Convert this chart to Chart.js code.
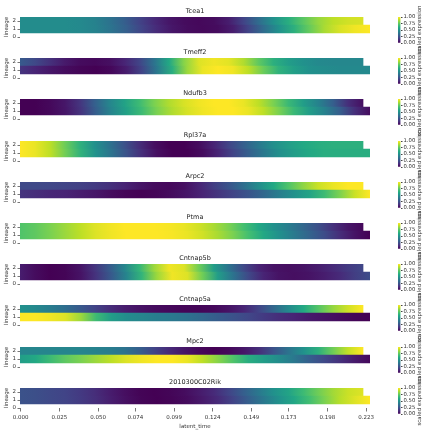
<!DOCTYPE html>
<html><head><meta charset="utf-8">
<script src="https://cdn.jsdelivr.net/npm/chart.js@4"></script>
<style>
html,body{margin:0;padding:0;background:#fff;width:425px;height:434px;overflow:hidden;}
body{position:relative;}
canvas{position:absolute;}
</style></head><body>
<script>
// ---- data ----
const genes = ['Tcea1','Tmeff2','Ndufb3','Rpl37a','Arpc2','Ptma','Cntnap5b','Cntnap5a','Mpc2','2010300C02Rik'];
const lineages = [2, 1];

const Tcea1_L2 = [0.48,0.48,0.48,0.48,0.47,0.44,0.38,0.30,0.20,0.12,0.06,0.03,0.02,0.03,0.08,0.20,0.35,0.50,0.62,0.74,0.84,0.90,0.93,0.94];
const Tcea1_L1 = [0.48,0.48,0.48,0.48,0.47,0.44,0.38,0.30,0.20,0.12,0.06,0.03,0.02,0.03,0.08,0.20,0.35,0.50,0.63,0.76,0.87,0.94,0.98,1.00];
const Tmeff2_L2 = [0.28,0.22,0.14,0.07,0.03,0.02,0.04,0.10,0.20,0.38,0.60,0.82,0.95,0.98,0.96,0.88,0.75,0.63,0.55,0.50,0.47,0.46,0.46,0.46];
const Tmeff2_L1 = [0.15,0.10,0.06,0.03,0.01,0.00,0.02,0.08,0.20,0.40,0.62,0.85,0.97,1.00,0.98,0.90,0.77,0.64,0.56,0.50,0.48,0.47,0.47,0.47];
const Ndufb3_L2 = [0.00,0.00,0.02,0.06,0.15,0.30,0.45,0.57,0.68,0.80,0.88,0.94,0.98,1.00,1.00,0.97,0.90,0.80,0.67,0.55,0.44,0.30,0.13,0.04];
const Ndufb3_L1 = [0.00,0.00,0.02,0.06,0.15,0.30,0.45,0.57,0.68,0.80,0.88,0.94,0.98,1.00,1.00,0.97,0.90,0.80,0.67,0.55,0.44,0.30,0.13,0.03];
const Rpl37a_L2 = [1.00,0.97,0.90,0.78,0.64,0.50,0.38,0.25,0.13,0.04,0.00,0.00,0.03,0.10,0.20,0.30,0.40,0.49,0.55,0.60,0.62,0.63,0.63,0.63];
const Rpl37a_L1 = [1.00,0.97,0.90,0.78,0.64,0.50,0.38,0.25,0.13,0.04,0.00,0.00,0.03,0.10,0.20,0.30,0.40,0.49,0.55,0.60,0.62,0.62,0.62,0.62];
const Arpc2_L2 = [0.22,0.22,0.21,0.20,0.19,0.17,0.14,0.10,0.06,0.03,0.02,0.04,0.10,0.18,0.26,0.36,0.48,0.60,0.72,0.83,0.92,0.97,1.00,1.00];
const Arpc2_L1 = [0.15,0.13,0.11,0.10,0.08,0.06,0.03,0.01,0.00,0.01,0.03,0.06,0.10,0.15,0.20,0.26,0.33,0.42,0.50,0.58,0.68,0.80,0.92,1.00];
const Ptma_L2 = [0.72,0.75,0.80,0.85,0.90,0.95,0.98,1.00,1.00,1.00,0.99,0.97,0.93,0.87,0.80,0.70,0.60,0.50,0.42,0.33,0.24,0.14,0.06,0.02];
const Ptma_L1 = [0.72,0.75,0.80,0.85,0.90,0.95,0.98,1.00,1.00,1.00,0.99,0.97,0.93,0.87,0.80,0.70,0.60,0.50,0.41,0.32,0.23,0.13,0.05,0.00];
const Cntnap5b_L2 = [0.08,0.03,0.00,0.01,0.05,0.15,0.28,0.45,0.65,0.85,0.98,0.95,0.78,0.55,0.38,0.22,0.10,0.05,0.04,0.05,0.08,0.12,0.17,0.21];
const Cntnap5b_L1 = [0.08,0.03,0.00,0.01,0.05,0.15,0.28,0.45,0.65,0.85,0.98,0.95,0.78,0.55,0.38,0.22,0.10,0.05,0.04,0.05,0.08,0.12,0.18,0.23];
const Cntnap5a_L2 = [0.50,0.47,0.42,0.36,0.28,0.20,0.13,0.08,0.05,0.03,0.02,0.01,0.01,0.02,0.05,0.10,0.20,0.33,0.47,0.60,0.73,0.84,0.93,1.00];
const Cntnap5a_L1 = [1.00,1.00,0.98,0.95,0.85,0.68,0.55,0.48,0.45,0.42,0.40,0.37,0.33,0.29,0.25,0.21,0.17,0.13,0.10,0.07,0.05,0.03,0.01,0.00];
const Mpc2_L2 = [0.45,0.45,0.45,0.45,0.45,0.44,0.42,0.38,0.30,0.20,0.12,0.06,0.02,0.00,0.02,0.06,0.13,0.25,0.38,0.50,0.63,0.78,0.91,1.00];
const Mpc2_L1 = [0.55,0.60,0.68,0.75,0.80,0.85,0.90,0.95,0.98,1.00,1.00,0.97,0.90,0.82,0.72,0.62,0.55,0.48,0.40,0.30,0.22,0.14,0.07,0.02];
const Rik_L2 = [0.25,0.24,0.22,0.20,0.17,0.13,0.08,0.04,0.01,0.00,0.01,0.03,0.07,0.12,0.20,0.30,0.40,0.50,0.58,0.68,0.78,0.86,0.92,0.95];
const Rik_L1 = [0.25,0.24,0.22,0.20,0.17,0.13,0.08,0.04,0.01,0.00,0.01,0.03,0.07,0.12,0.20,0.30,0.40,0.50,0.59,0.69,0.80,0.89,0.95,1.00];

const rowStart = -0.0004;
const rowEnd = [0.2210, 0.2255];      // lineage 2, lineage 1
const xMin = -0.0004, xMax = 0.2255;
const xTickLabels = ['0.000','0.025','0.050','0.074','0.099','0.124','0.149','0.173','0.198','0.223'];
const yTickValues = [0, 1, 2];
const cbTickValues = [0, 0.25, 0.5, 0.75, 1];
const cbTickLabels = ['0.00','0.25','0.50','0.75','1.00'];

const series = [
  [Tcea1_L2, Tcea1_L1], [Tmeff2_L2, Tmeff2_L1], [Ndufb3_L2, Ndufb3_L1], [Rpl37a_L2, Rpl37a_L1],
  [Arpc2_L2, Arpc2_L1], [Ptma_L2, Ptma_L1], [Cntnap5b_L2, Cntnap5b_L1], [Cntnap5a_L2, Cntnap5a_L1],
  [Mpc2_L2, Mpc2_L1], [Rik_L2, Rik_L1]
];

// ---- colormap ----
const VIRIDIS = ['#440154','#482475','#414487','#355f8d','#2a788e','#21918c','#22a884','#44bf70','#7ad151','#bddf26','#fde725'];
function hexRgb(h){return [parseInt(h.slice(1,3),16),parseInt(h.slice(3,5),16),parseInt(h.slice(5,7),16)];}
const VRGB = VIRIDIS.map(hexRgb);
function viridis(v){
  v = Math.max(0, Math.min(1, v));
  const p = v * (VRGB.length - 1);
  const i = Math.min(Math.floor(p), VRGB.length - 2);
  const t = p - i;
  const a = VRGB[i], b = VRGB[i+1];
  return 'rgb(' + [0,1,2].map(c => Math.round(a[c] + (b[c]-a[c])*t)).join(',') + ')';
}

Chart.defaults.font.family = '"DejaVu Sans", sans-serif';
const TXT = '#333';

function rowGradient(ctx, rows){
  const chart = ctx.chart;
  if (!chart.chartArea || ctx.dataIndex === undefined) return 'rgba(0,0,0,0)';
  const k = ctx.dataIndex;
  const vals = rows[k];
  const xs = chart.scales.x;
  const x0 = xs.getPixelForValue(rowStart), x1 = xs.getPixelForValue(rowEnd[k]);
  const g = chart.ctx.createLinearGradient(x0, 0, x1, 0);
  vals.forEach((v, j) => g.addColorStop(j / (vals.length - 1), viridis(v)));
  return g;
}
function cbGradient(ctx){
  const chart = ctx.chart;
  if (!chart.chartArea) return 'rgba(0,0,0,0)';
  const ys = chart.scales.y;
  const g = chart.ctx.createLinearGradient(0, ys.getPixelForValue(0), 0, ys.getPixelForValue(1));
  VIRIDIS.forEach((c, j) => g.addColorStop(j / (VIRIDIS.length - 1), c));
  return g;
}
const cbLabelPlugin = {
  id: 'cbLabel',
  afterDraw(chart){
    const c = chart.ctx, a = chart.chartArea;
    c.save();
    c.font = '5.5px "DejaVu Sans"';
    c.fillStyle = TXT;
    c.translate(35, (a.top + a.bottom) / 2);
    c.rotate(-Math.PI / 2);
    c.textAlign = 'center';
    c.textBaseline = 'middle';
    c.fillText('scaled expression', 0, 0);
    c.restore();
  }
};

function makeCanvas(left, top, w, h){
  const cv = document.createElement('canvas');
  cv.width = w; cv.height = h;
  cv.style.left = left + 'px'; cv.style.top = top + 'px';
  cv.style.width = w + 'px'; cv.style.height = h + 'px';
  document.body.appendChild(cv);
  return cv;
}

genes.forEach((gene, i) => {
  const last = i === genes.length - 1;
  const plotTop = Math.round(17 + 41.2 * i);
  const rows = series[i];
  const cv = makeCanvas(0, plotTop - 14, 385, last ? 60 : 42);
  const xScale = {
    type: 'linear', min: xMin, max: xMax, display: last, offset: false,
    afterBuildTicks: s => { s.ticks = xTickLabels.map(t => ({ value: parseFloat(t) })); },
    ticks: { autoSkip: false, maxRotation: 0, font: { size: 5.5 }, color: TXT, padding: 3,
             callback: (v, k) => xTickLabels[k] },
    grid: { display: true, offset: false, drawOnChartArea: false, drawTicks: true, tickLength: 3.5, color: '#777' },
    border: { display: false },
    title: { display: true, text: 'latent_time', font: { size: 5.5 }, color: TXT, padding: { top: 2.6, bottom: 1 } }
  };
  if (last) xScale.afterFit = s => { s.height = 23.3; };
  new Chart(cv, {
    type: 'bar',
    data: { datasets: [{
      data: lineages.map((l, k) => ({ y: l, x: [rowStart, rowEnd[k]] })),
      backgroundColor: ctx => rowGradient(ctx, rows),
      borderWidth: 0, barPercentage: 1, categoryPercentage: 1
    }]},
    options: {
      indexAxis: 'y', responsive: false, animation: false, events: [], devicePixelRatio: 1,
      layout: { padding: { top: 3, left: 0, right: 15, bottom: last ? 2.7 : 8 } },
      plugins: {
        legend: { display: false }, tooltip: { enabled: false },
        title: { display: true, text: gene, fullSize: false, color: '#222',
                 font: { size: 6.5, weight: 'normal' }, padding: { top: 1, bottom: 2.2 } }
      },
      scales: {
        x: xScale,
        y: {
          type: 'linear', min: 0, max: 2.5, offset: false,
          afterBuildTicks: s => { s.ticks = yTickValues.map(v => ({ value: v })); },
          ticks: { autoSkip: false, font: { size: 5.5 }, color: TXT, padding: 1.5, callback: v => String(v) },
          grid: { display: true, offset: false, drawOnChartArea: false, drawTicks: true, tickLength: 2.5, color: '#777' },
          border: { display: false },
          title: { display: true, text: 'lineage', font: { size: 5.5 }, color: TXT, padding: { top: 3.7, bottom: 0 } },
          afterFit: s => { s.width = 20; }
        }
      }
    }
  });

  const cb = makeCanvas(385, plotTop - 20, 40, 66);
  new Chart(cb, {
    type: 'bar',
    data: { labels: [''], datasets: [{ data: [[0, 1]], backgroundColor: cbGradient, borderWidth: 0,
                                        barPercentage: 1, categoryPercentage: 1 }] },
    options: {
      responsive: false, animation: false, events: [], devicePixelRatio: 1,
      layout: { padding: { top: 20, bottom: 20, left: 13, right: 0 } },
      plugins: { legend: { display: false }, tooltip: { enabled: false } },
      scales: {
        x: { display: false },
        y: {
          position: 'right', min: 0, max: 1,
          afterBuildTicks: s => { s.ticks = cbTickValues.map(v => ({ value: v })); },
          ticks: { autoSkip: false, font: { size: 5.3 }, color: TXT, padding: 1, callback: (v, k) => cbTickLabels[k] },
          grid: { display: true, drawOnChartArea: false, drawTicks: true, tickLength: 2, color: '#444' },
          border: { display: false },
          afterFit: s => { s.width = 24.5; }
        }
      }
    },
    plugins: [cbLabelPlugin]
  });
});
</script>
</body></html>
